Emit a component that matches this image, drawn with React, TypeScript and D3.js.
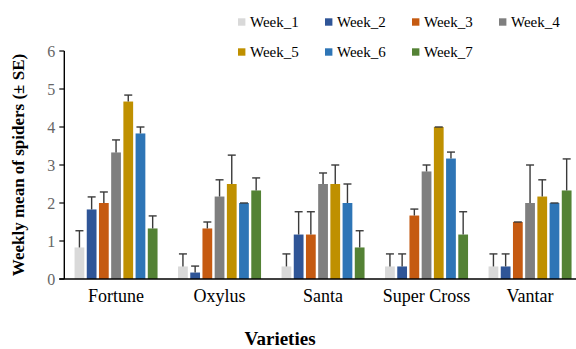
import * as d3 from 'd3'

const varieties = ['Fortune', 'Oxylus', 'Santa', 'Super Cross', 'Vantar']
const weeks = ['Week_1', 'Week_2', 'Week_3', 'Week_4', 'Week_5', 'Week_6', 'Week_7']
const weekColors = ['#d9d9d9', '#2f5597', '#c55a11', '#7f7f7f', '#bf9000', '#2e75b6', '#548235']

// means per week, one value per variety
const week1Mean = [0.83, 0.33, 0.33, 0.33, 0.33]
const week2Mean = [1.83, 0.17, 1.17, 0.33, 0.33]
const week3Mean = [2.0, 1.33, 1.17, 1.67, 1.5]
const week4Mean = [3.33, 2.17, 2.5, 2.83, 2.0]
const week5Mean = [4.67, 2.5, 2.5, 4.0, 2.17]
const week6Mean = [3.83, 2.0, 2.0, 3.17, 2.0]
const week7Mean = [1.33, 2.33, 0.83, 1.17, 2.33]

// standard errors
const week1SE = [0.44, 0.33, 0.33, 0.33, 0.33]
const week2SE = [0.33, 0.17, 0.6, 0.33, 0.33]
const week3SE = [0.29, 0.17, 0.6, 0.17, 0]
const week4SE = [0.33, 0.44, 0.29, 0.17, 1.0]
const week5SE = [0.17, 0.76, 0.5, 0, 0.44]
const week6SE = [0.17, 0, 0.5, 0.17, 0]
const week7SE = [0.33, 0.33, 0.44, 0.6, 0.83]

const yTicks = [0, 1, 2, 3, 4, 5, 6]

const means = [week1Mean, week2Mean, week3Mean, week4Mean, week5Mean, week6Mean, week7Mean]
const ses = [week1SE, week2SE, week3SE, week4SE, week5SE, week6SE, week7SE]

const font = "'Liberation Serif', Tinos, 'DejaVu Serif', serif"

export default function App() {
  const width = 576
  const height = 349
  const left = 64.3
  const top = 51
  const bottom = 279

  const x0 = d3.scaleBand().domain(varieties).range([left, left + 517.5]).padding(0)
  const x1 = d3.scaleBand().domain(weeks).range([0, x0.bandwidth()])
    .paddingInner(0.2).paddingOuter(0.84)
  const y = d3.scaleLinear().domain([0, 6]).range([bottom, top])

  const bars = varieties.flatMap((v, vi) =>
    weeks.map((w, wi) => ({ v, w, wi, mean: means[wi][vi], se: ses[wi][vi] })))

  const txt = { fontFamily: font }

  return (
    <svg width={width} height={height}
      style={{ position: 'absolute', left: 0, top: 0, display: 'block', fontFamily: font }}>
      <rect width={width} height={height} fill="#fff" />

      {/* bars */}
      {bars.map((d) => (
        <rect key={d.v + d.w}
          x={x0(d.v)! + x1(d.w)!}
          y={y(d.mean)}
          width={x1.bandwidth()}
          height={y(0) - y(d.mean)}
          fill={weekColors[d.wi]} />
      ))}

      {/* error bars (upper only) */}
      {bars.map((d) => {
        const cx = x0(d.v)! + x1(d.w)! + x1.bandwidth() / 2
        return (
          <g key={'e' + d.v + d.w} stroke="#3a3a3a" strokeWidth={1.4}>
            <line x1={cx} x2={cx} y1={y(d.mean)} y2={y(d.mean + d.se)} />
            <line x1={cx - 4} x2={cx + 4} y1={y(d.mean + d.se)} y2={y(d.mean + d.se)} />
          </g>
        )
      })}

      {/* y axis */}
      <line x1={left} x2={left} y1={top} y2={bottom} stroke="#000" strokeWidth={1.4} />
      {yTicks.map((t) => (
        <g key={t} transform={`translate(0,${y(t)})`}>
          <line x1={left - 5} x2={left} stroke="#000" strokeWidth={1.2} />
          <text x={left - 9} dy="0.35em" textAnchor="end" fontSize={16} fill="#666" style={txt}>{t}</text>
        </g>
      ))}

      {/* x axis */}
      <line x1={left - 5} x2={width} y1={bottom} y2={bottom} stroke="#000" strokeWidth={1.5} />
      {varieties.map((v) => (
        <text key={v} x={x0(v)! + x0.bandwidth() / 2} y={302} textAnchor="middle" fontSize={18}
          fill="#000" style={txt}>{v}</text>
      ))}

      {/* axis titles */}
      <text transform={`translate(24,${(top + bottom) / 2}) rotate(-90)`} textAnchor="middle"
        fontSize={17} fontWeight="bold" fill="#000" style={txt}>Weekly mean of spiders (± SE)</text>
      <text x={280} y={345} textAnchor="middle" fontSize={19} fontWeight="bold" fill="#000"
        style={txt}>Varieties</text>

      {/* legend */}
      {weeks.map((w, i) => {
        const lx = 238 + (i % 4) * 87
        const ly = 22 + Math.floor(i / 4) * 30
        return (
          <g key={w}>
            <rect x={lx} y={ly - 3.7} width={7.4} height={7.4} fill={weekColors[i]} />
            <text x={lx + 12} y={ly} dy="0.35em" fontSize={15} fill="#000" style={txt}>{w}</text>
          </g>
        )
      })}
    </svg>
  )
}
